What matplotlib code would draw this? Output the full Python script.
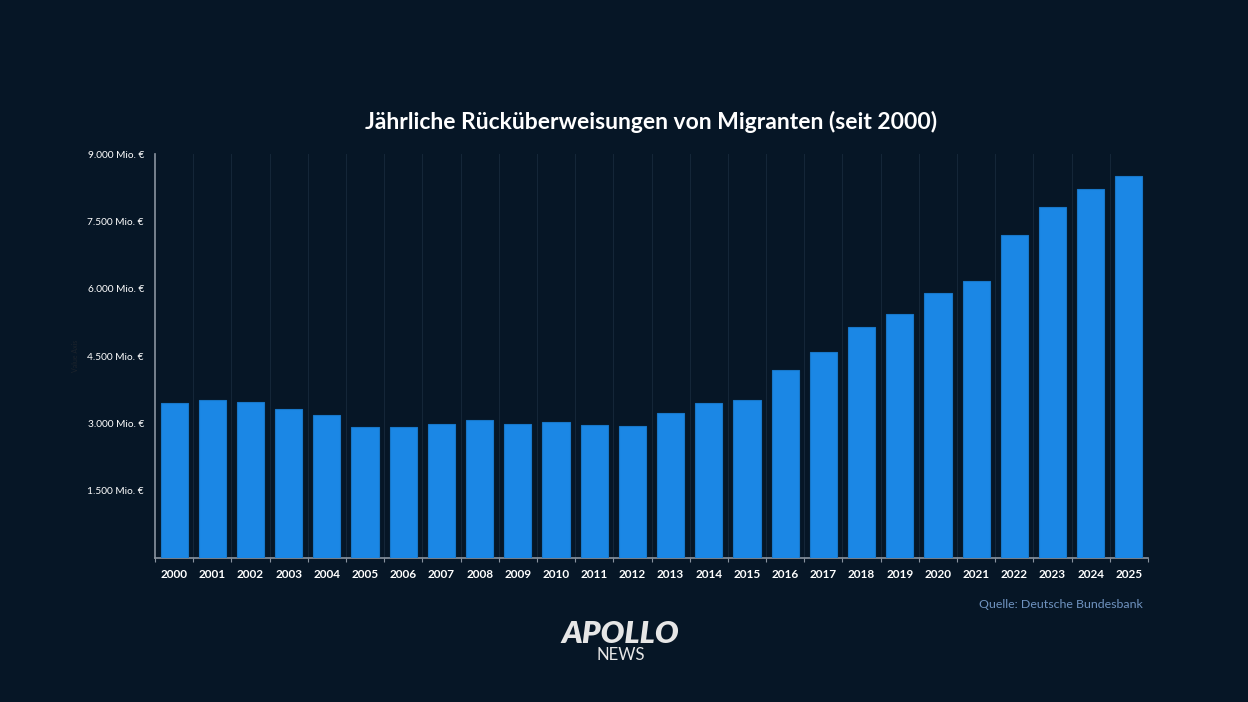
import matplotlib
matplotlib.use("Agg")
import matplotlib.pyplot as plt
import numpy as np

# Rücküberweisungen in Mio. €
years = [str(y) for y in range(2000, 2026)]
values = [3444, 3511, 3466, 3326, 3176, 2924, 2924, 2991, 3071, 2991,
          3020, 2969, 2938, 3221, 3444, 3511, 4188, 4598, 5141, 5431,
          5900, 6161, 7194, 7812, 8230, 8511]
y_ticks = [1500, 3000, 4500, 6000, 7500, 9000]
y_labels = ["1.500 Mio. €", "3.000 Mio. €", "4.500 Mio. €",
            "6.000 Mio. €", "7.500 Mio. €", "9.000 Mio. €"]

BG = "#061626"
BAR = "#1b87e5"

plt.rcParams["font.family"] = ["Lato", "DejaVu Sans"]

fig = plt.figure(figsize=(12.48, 7.02), dpi=100, facecolor=BG)
ax = fig.add_axes([155 / 1248, 1 - 558 / 702, (1148 - 155) / 1248, (558 - 154) / 702])
ax.set_facecolor(BG)

x = np.arange(len(years))
ax.bar(x, values, width=0.71, color=BAR, edgecolor="#1877c9", linewidth=0.8, zorder=3)

ax.set_xlim(-0.5, len(years) - 0.5)
ax.set_ylim(0, 9000)

# vertical grid at category boundaries
for b in np.arange(0.5, len(years) - 0.5, 1):
    ax.axvline(b, color="#142638", linewidth=0.8, zorder=1)

ax.set_xticks(x)
ax.set_xticklabels(years, fontsize=8.5, fontweight="bold", color="white")
ax.set_xticks(np.arange(-0.5, len(years), 1), minor=True)
ax.tick_params(axis="x", which="major", length=0, pad=8)
ax.tick_params(axis="x", which="minor", length=3, color="#8a94a0", width=0.8)

ax.set_yticks(y_ticks)
ax.set_yticklabels(y_labels, fontsize=7.3, color="white")
ax.tick_params(axis="y", length=0, pad=8)

for side in ["top", "right"]:
    ax.spines[side].set_visible(False)
for side in ["left", "bottom"]:
    ax.spines[side].set_color("#8a94a0")
    ax.spines[side].set_linewidth(1.2)

ax.set_ylabel("Value Axis", fontsize=5, color="#1c232c", labelpad=6)

ax.set_title("Jährliche Rücküberweisungen von Migranten (seit 2000)",
             fontsize=16.5, fontweight="bold", color="white", pad=18)

fig.text(1143 / 1248, 1 - 605 / 702, "Quelle: Deutsche Bundesbank",
         ha="right", va="center", fontsize=8.9, color="#6f93c0")

fig.text(620 / 1248, 1 - 634 / 702, "APOLLO", ha="center", va="center",
         fontsize=22.5, fontweight="heavy", style="italic", color="#e6e6e6")
fig.text(621 / 1248, 1 - 655 / 702, "NEWS", ha="center", va="center",
         fontsize=12, color="#e6e6e6")

fig.savefig("out.png", dpi=100, facecolor=BG)
